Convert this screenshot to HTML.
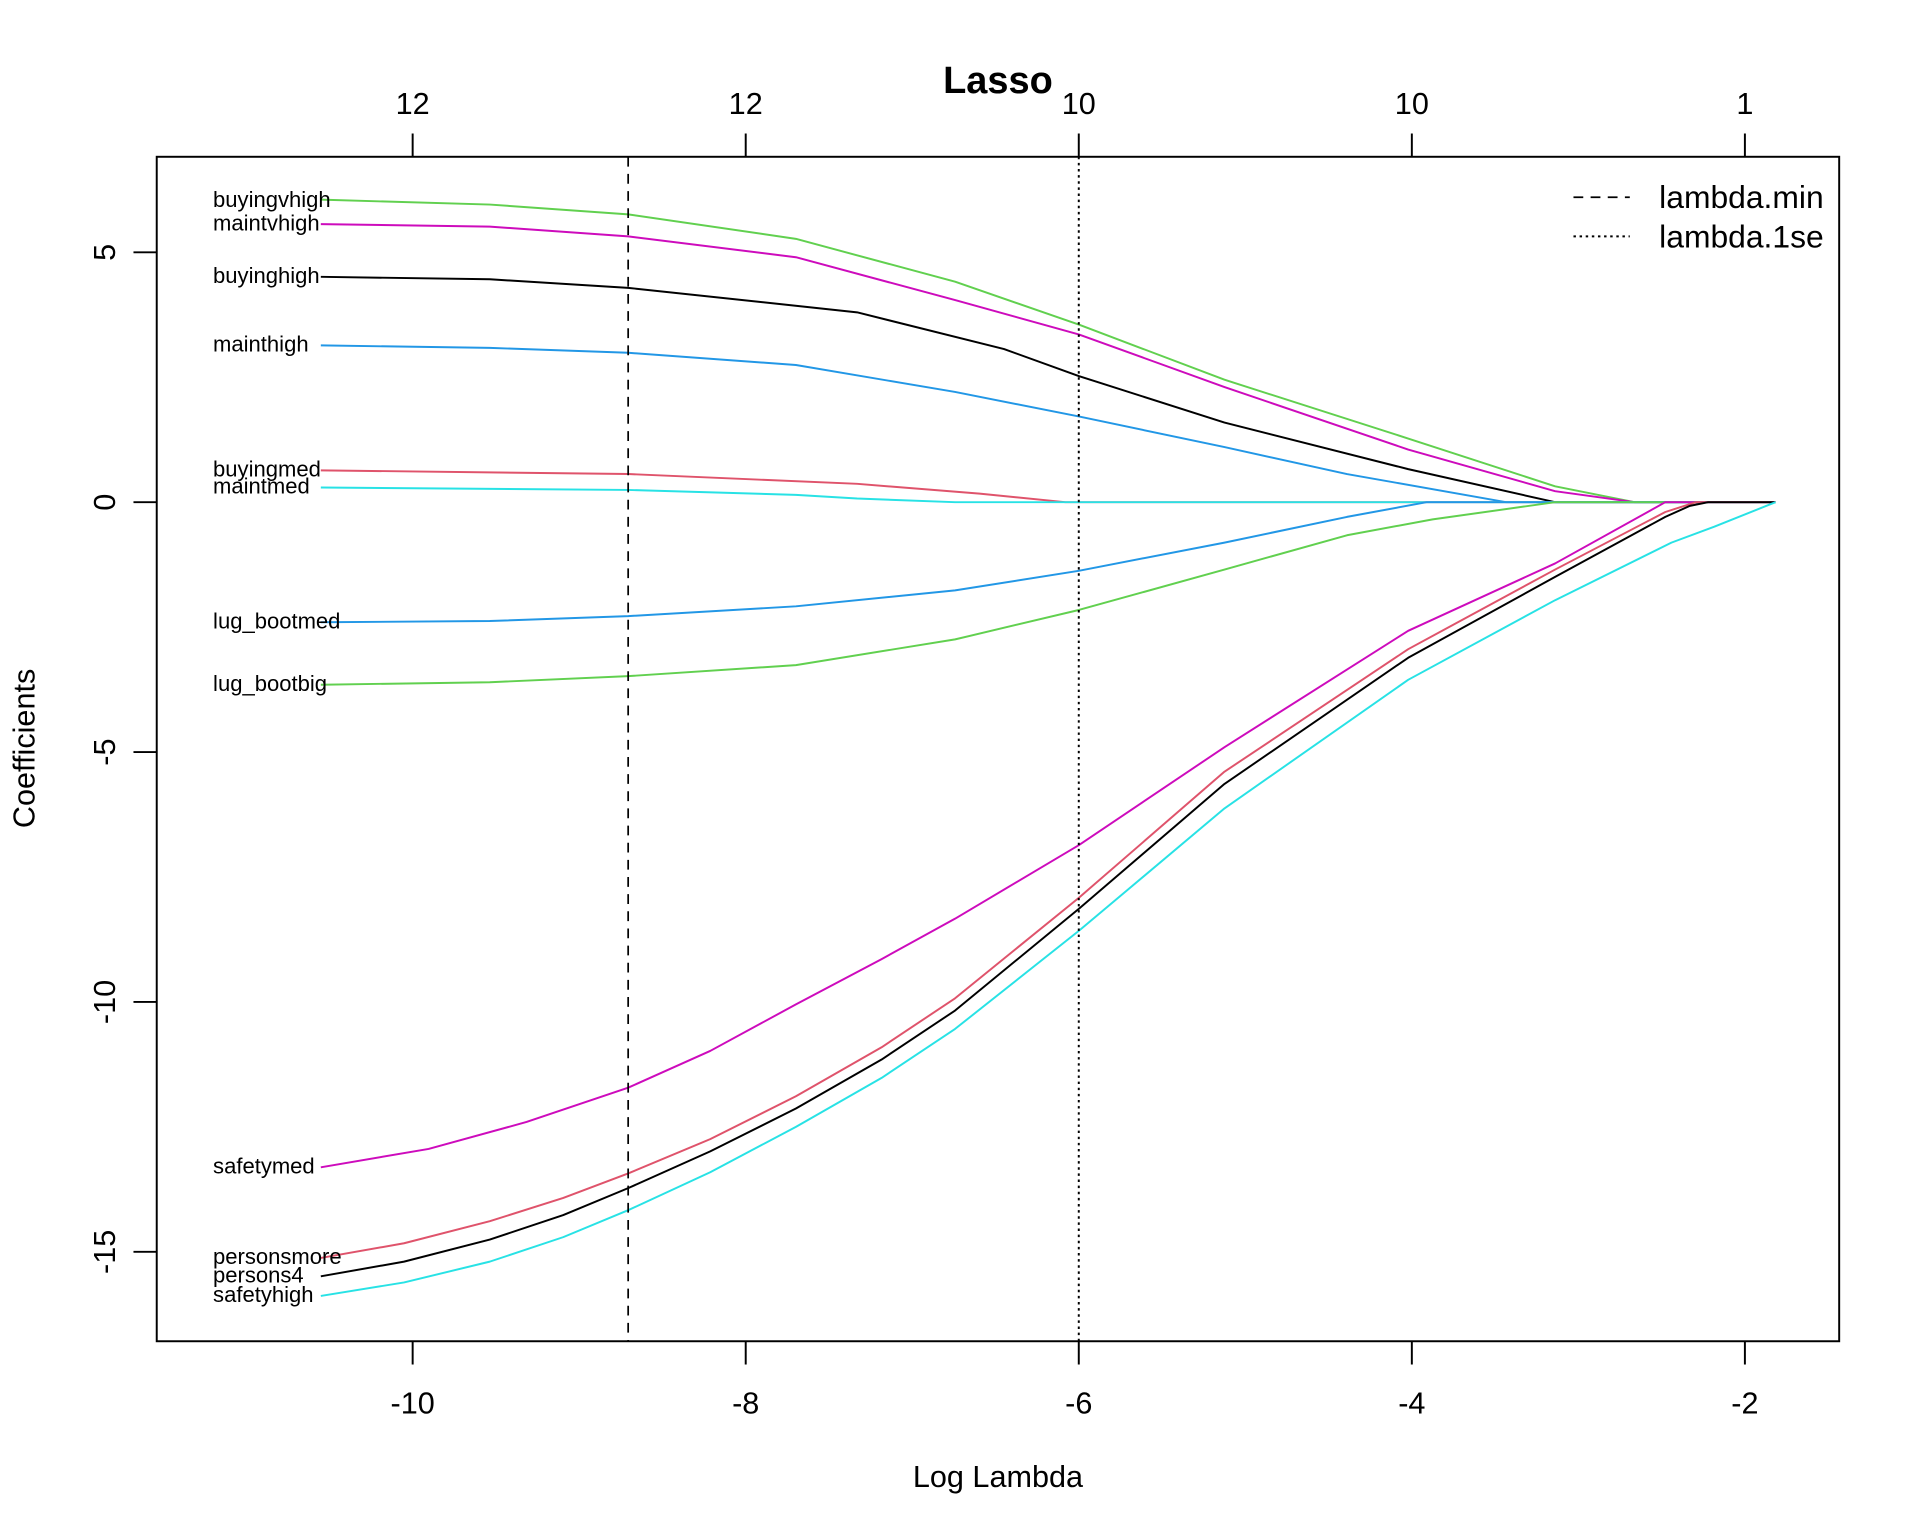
<!DOCTYPE html>
<html><head><meta charset="utf-8"><style>html,body{margin:0;padding:0;background:#fff}svg{display:block}</style></head>
<body>
<svg width="1920" height="1536" viewBox="0 0 1568 1254" preserveAspectRatio="none" xmlns="http://www.w3.org/2000/svg" font-family="Liberation Sans, Arial, sans-serif">
<rect width="1568" height="1254" fill="#fff"/>
<g fill="none" stroke-width="1.6" stroke-linejoin="round">
<polyline stroke="#61D04F" points="262,163 400,167 513,175 650,195 780,230 881,265 1000,310 1150,358 1270,397 1335,410 1450,410"/>
<polyline stroke="#CD0BBC" points="262,183 400,185 513,193 650,210 780,245 881,273 1000,316 1150,367 1270,401 1335,410 1450,410"/>
<polyline stroke="#000" points="262,226 400,228 513,235 700,255 820,285 881,307 1000,345 1150,383 1270,410 1450,410"/>
<polyline stroke="#2297E6" points="262,282 400,284 513,288 650,298 780,320 881,340 1000,365 1100,387 1230,410 1450,410"/>
<polyline stroke="#DF536B" points="262,384 513,387 700,395 800,403 870,410 1450,410"/>
<polyline stroke="#28E2E5" points="262,398 513,400 650,404 700,407 780,410 1450,410"/>
<polyline stroke="#2297E6" points="262,508 400,507 513,503 650,495 780,482 881,466 1000,443 1100,422 1165,410 1450,410"/>
<polyline stroke="#61D04F" points="262,559 400,557 513,552 650,543 780,522 881,498 1000,465 1100,437 1170,424 1270,410 1450,410"/>
<polyline stroke="#CD0BBC" points="262,953 350,938 430,916 513,888 580,858 650,820 720,783 780,750 881,690 1000,610 1150,515 1270,460 1360,410 1450,410"/>
<polyline stroke="#DF536B" points="262,1027 330,1015 400,997 460,978 513,958 580,930 650,895 720,855 780,815 881,733 1000,630 1150,530 1270,465 1360,418 1385,410 1450,410"/>
<polyline stroke="#000" points="262,1042 330,1030 400,1012 460,992 513,970 580,940 650,905 720,865 780,825 881,742 1000,640 1150,537 1270,471 1360,422 1380,413 1395,410 1450,410"/>
<polyline stroke="#28E2E5" points="262,1058 330,1047 400,1030 460,1010 513,988 580,957 650,920 720,880 780,840 881,760 1000,660 1150,555 1270,490 1365,443 1400,430 1450,410"/>
</g>
<line x1="513" y1="128" x2="513" y2="1095" stroke="#000" stroke-width="1.4" stroke-dasharray="8,6"/>
<line x1="881" y1="128" x2="881" y2="1095" stroke="#000" stroke-width="1.6" stroke-dasharray="2,3"/>
<rect x="128" y="128" width="1374" height="967" fill="none" stroke="#000" stroke-width="1.6"/>
<g stroke="#000" stroke-width="1.6">
<line x1="337" y1="1095" x2="337" y2="1114"/><line x1="609" y1="1095" x2="609" y2="1114"/><line x1="881" y1="1095" x2="881" y2="1114"/><line x1="1153" y1="1095" x2="1153" y2="1114"/><line x1="1425" y1="1095" x2="1425" y2="1114"/>
<line x1="337" y1="128" x2="337" y2="109"/><line x1="609" y1="128" x2="609" y2="109"/><line x1="881" y1="128" x2="881" y2="109"/><line x1="1153" y1="128" x2="1153" y2="109"/><line x1="1425" y1="128" x2="1425" y2="109"/>
<line x1="128" y1="206" x2="109" y2="206"/><line x1="128" y1="410" x2="109" y2="410"/><line x1="128" y1="614" x2="109" y2="614"/><line x1="128" y1="818" x2="109" y2="818"/><line x1="128" y1="1022" x2="109" y2="1022"/>
</g>
<g font-size="25" text-anchor="middle" fill="#000">
<text x="337" y="1154">-10</text><text x="609" y="1154">-8</text><text x="881" y="1154">-6</text><text x="1153" y="1154">-4</text><text x="1425" y="1154">-2</text>
<text x="337" y="93">12</text><text x="609" y="93">12</text><text x="881" y="93">10</text><text x="1153" y="93">10</text><text x="1425" y="93">1</text>
<text transform="translate(94,206) rotate(-90)">5</text>
<text transform="translate(94,410) rotate(-90)">0</text>
<text transform="translate(94,614) rotate(-90)">-5</text>
<text transform="translate(94,818) rotate(-90)">-10</text>
<text transform="translate(94,1022) rotate(-90)">-15</text>
<text x="815" y="1214">Log Lambda</text>
<text transform="translate(28,611) rotate(-90)">Coefficients</text>
<text x="815" y="76" font-weight="bold" font-size="31">Lasso</text>
</g>
<g font-size="18" fill="#000">
<text x="174" y="169">buyingvhigh</text>
<text x="174" y="188">maintvhigh</text>
<text x="174" y="231">buyinghigh</text>
<text x="174" y="287">mainthigh</text>
<text x="174" y="389">buyingmed</text>
<text x="174" y="403">maintmed</text>
<text x="174" y="513">lug_bootmed</text>
<text x="174" y="564">lug_bootbig</text>
<text x="174" y="958">safetymed</text>
<text x="174" y="1032">personsmore</text>
<text x="174" y="1047">persons4</text>
<text x="174" y="1063">safetyhigh</text>
</g>
<line x1="1285" y1="161" x2="1331" y2="161" stroke="#000" stroke-width="1.4" stroke-dasharray="8,6"/>
<line x1="1285" y1="193" x2="1331" y2="193" stroke="#000" stroke-width="1.6" stroke-dasharray="2,3"/>
<g font-size="26" fill="#000"><text x="1355" y="170">lambda.min</text><text x="1355" y="202">lambda.1se</text></g>
</svg>
</body></html>
